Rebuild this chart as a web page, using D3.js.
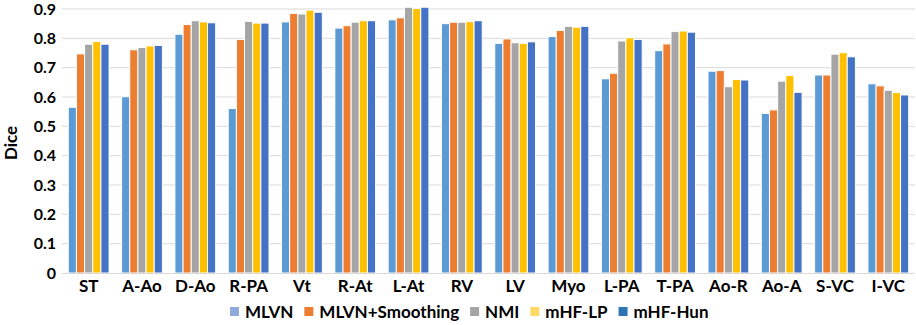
<!DOCTYPE html>
<html>
<head>
<meta charset="utf-8">
<script src="https://cdn.jsdelivr.net/npm/d3@7"></script>
<style>
  body { margin: 0; background: #fff; }
  svg { display: block; }
  text { font-family: Lato, "Open Sans", sans-serif; font-weight: bold; fill: #000; }
</style>
</head>
<body>
<svg id="chart" width="916" height="325"></svg>
<script>
const categories = ["ST","A-Ao","D-Ao","R-PA","Vt","R-At","L-At","RV","LV","Myo","L-PA","T-PA","Ao-R","Ao-A","S-VC","I-VC"];
const seriesNames = ["MLVN","MLVN+Smoothing","NMI","mHF-LP","mHF-Hun"];
const mlvn      = [0.565,0.601,0.814,0.561,0.856,0.835,0.863,0.850,0.783,0.806,0.662,0.758,0.688,0.544,0.675,0.645];
const smoothing = [0.747,0.761,0.847,0.796,0.885,0.843,0.870,0.855,0.798,0.827,0.681,0.781,0.690,0.556,0.675,0.638];
const nmi       = [0.780,0.769,0.860,0.858,0.883,0.855,0.906,0.855,0.785,0.841,0.791,0.823,0.635,0.654,0.746,0.623];
const mhfLP     = [0.789,0.774,0.856,0.852,0.896,0.860,0.902,0.857,0.783,0.838,0.802,0.825,0.660,0.673,0.751,0.615];
const mhfHun    = [0.780,0.776,0.853,0.852,0.889,0.860,0.906,0.860,0.788,0.841,0.796,0.821,0.658,0.616,0.737,0.607];
const yTicks = [0,0.1,0.2,0.3,0.4,0.5,0.6,0.7,0.8,0.9];
const colors = ["#5B9BD5","#ED7D31","#A5A5A5","#FFC000","#4472C4"];
const legendColors = ["#8FAADC","#ED7D31","#A5A5A5","#FFD966","#2E75B6"];

const allSeries = [mlvn, smoothing, nmi, mhfLP, mhfHun];
const svg = d3.select("#chart");
const mLeft = 62, mRight = 915, mTop = 9, mBottom = 273;

const x0 = d3.scaleBand().domain(categories).range([mLeft, mRight]).paddingInner(0.235).paddingOuter(0.118);
const x1 = d3.scaleBand().domain(seriesNames).range([0, x0.bandwidth()]).padding(0);
const y = d3.scaleLinear().domain([0, 0.9]).range([mBottom, mTop]);

// gridlines
svg.append("g").selectAll("line").data(yTicks.slice(1)).join("line")
  .attr("x1", mLeft).attr("x2", mRight)
  .attr("y1", d => y(d)).attr("y2", d => y(d))
  .attr("stroke", "#D9D9D9").attr("stroke-width", 1);

// y axis labels
const yAxis = d3.axisLeft(y).tickValues(yTicks).tickSize(0).tickPadding(5)
  .tickFormat(d => d === 0 ? "0" : d3.format(".1f")(d));
const yg = svg.append("g").attr("transform", `translate(${mLeft - 1},0)`).call(yAxis);
yg.select(".domain").remove();
yg.selectAll("text").style("font-size", "16px").style("font-family", "Lato, sans-serif").style("font-weight", "bold");

// bars
const groups = svg.append("g").selectAll("g").data(categories).join("g")
  .attr("transform", d => `translate(${x0(d)},0)`);
groups.selectAll("rect").data((c, i) => seriesNames.map((s, k) => ({s, k, v: allSeries[k][i]})))
  .join("rect")
  .attr("x", d => x1(d.s))
  .attr("y", d => y(d.v))
  .attr("width", x1.bandwidth())
  .attr("height", d => y(0) - y(d.v))
  .attr("fill", d => colors[d.k])
  .attr("stroke", "#fff").attr("stroke-width", 1);

// x axis line
svg.append("line").attr("x1", mLeft).attr("x2", mRight).attr("y1", mBottom + 0.5).attr("y2", mBottom + 0.5)
  .attr("stroke", "#D9D9D9").attr("stroke-width", 1);

// x axis labels
const xAxis = d3.axisBottom(x0).tickSize(0).tickPadding(7);
const xg = svg.append("g").attr("transform", `translate(0,${mBottom})`).call(xAxis);
xg.select(".domain").remove();
xg.selectAll("text").style("font-size", "17px").style("font-family", "Lato, sans-serif").style("font-weight", "bold");

// y title
svg.append("text").attr("transform", "translate(17,143) rotate(-90)")
  .attr("text-anchor", "middle").style("font-size", "17px").text("Dice");

// legend
const legend = svg.append("g").attr("transform", "translate(230,312)");
let lx = 0;
seriesNames.forEach((s, k) => {
  const g = legend.append("g").attr("transform", `translate(${lx},0)`);
  g.append("rect").attr("x", 0).attr("y", -5).attr("width", 9).attr("height", 9).attr("fill", legendColors[k]);
  const t = g.append("text").attr("x", 15).attr("y", 0).attr("dy", "0.35em").style("font-size", "17px").text(s);
  lx += 15 + t.node().getComputedTextLength() + 11;
});
</script>
</body>
</html>
